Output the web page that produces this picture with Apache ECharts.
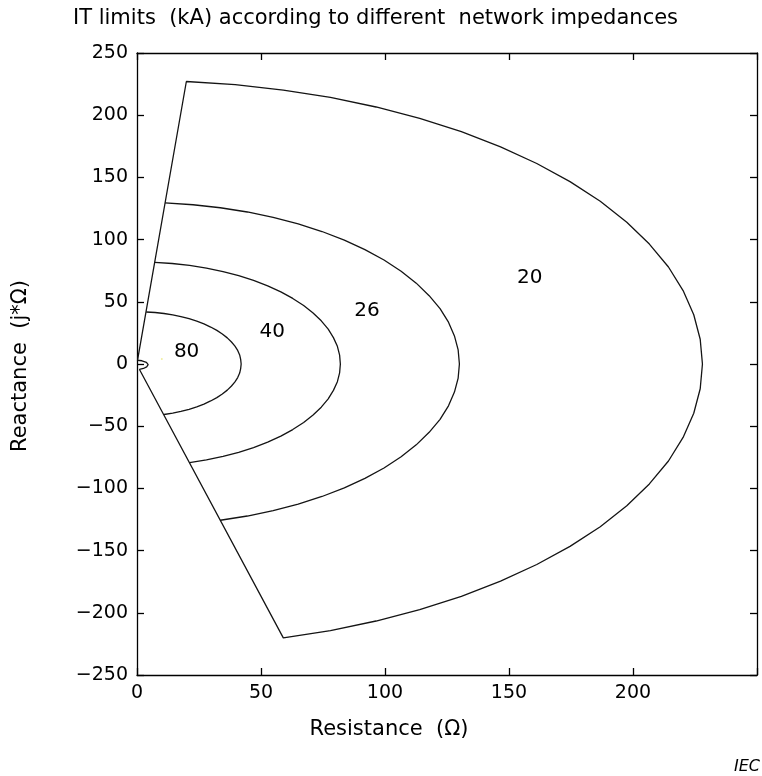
<!DOCTYPE html>
<html>
<head>
<meta charset="utf-8">
<script src="https://cdn.jsdelivr.net/npm/echarts@6/dist/echarts.min.js"></script>
<style>html,body{margin:0;padding:0;background:#fff;}#c{width:762px;height:776px;}</style>
</head>
<body>
<div id="c"></div>
<script>
// ---- data ----
var xTicks = [0, 50, 100, 150, 200, 250];
var yTicks = [-250, -200, -150, -100, -50, 0, 50, 100, 150, 200, 250];

// outer boundary (20 kA): upper wedge line, arc, lower wedge line, small loop near origin
var curve20 = [
  [0.2, 3.0], [19.9, 227.1], [39.6, 224.5], [59.0, 220.2], [78.0, 214.3], [96.4, 206.6],
  [114.0, 197.5], [130.8, 186.8], [146.6, 174.6], [161.2, 161.2], [174.6, 146.6],
  [186.8, 130.8], [197.5, 114.0], [206.6, 96.4], [214.3, 78.0], [220.2, 59.0],
  [224.5, 39.6], [227.1, 19.9], [228.0, 0.0], [227.1, -19.9], [224.5, -39.6],
  [220.2, -59.0], [214.3, -78.0], [206.6, -96.4], [197.5, -114.0], [186.8, -130.8],
  [174.6, -146.6], [161.2, -161.2], [146.6, -174.6], [130.8, -186.8], [114.0, -197.5],
  [96.4, -206.6], [78.0, -214.3], [59.0, -220.2],
  [1.0, -4.4], [2.6, -3.6], [3.9, -2.3], [4.5, -0.5], [3.8, 1.3], [2.0, 2.6], [0.2, 3.0]
];
var curve26 = [
  [11.3, 129.5], [22.6, 128.0], [33.6, 125.6], [44.5, 122.2], [54.9, 117.8], [65.0, 112.6],
  [74.6, 106.5], [83.6, 99.6], [91.9, 91.9], [99.6, 83.6], [106.5, 74.6], [112.6, 65.0],
  [117.8, 54.9], [122.2, 44.5], [125.6, 33.6], [128.0, 22.6], [129.5, 11.3], [130.0, 0.0],
  [129.5, -11.3], [128.0, -22.6], [125.6, -33.6], [122.2, -44.5], [117.8, -54.9],
  [112.6, -65.0], [106.5, -74.6], [99.6, -83.6], [91.9, -91.9], [83.6, -99.6],
  [74.6, -106.5], [65.0, -112.6], [54.9, -117.8], [44.5, -122.2], [33.6, -125.6]
];
var curve40 = [
  [7.1, 81.7], [14.2, 80.8], [21.2, 79.2], [28.0, 77.1], [34.7, 74.3], [41.0, 71.0],
  [47.0, 67.2], [52.7, 62.8], [58.0, 58.0], [62.8, 52.7], [67.2, 47.0], [71.0, 41.0],
  [74.3, 34.7], [77.1, 28.0], [79.2, 21.2], [80.8, 14.2], [81.7, 7.1], [82.0, 0.0],
  [81.7, -7.1], [80.8, -14.2], [79.2, -21.2], [77.1, -28.0], [74.3, -34.7], [71.0, -41.0],
  [67.2, -47.0], [62.8, -52.7], [58.0, -58.0], [52.7, -62.8], [47.0, -67.2],
  [41.0, -71.0], [34.7, -74.3], [28.0, -77.1], [21.2, -79.2]
];
var curve80 = [
  [3.7, 41.8], [7.3, 41.4], [10.9, 40.6], [14.4, 39.5], [17.7, 38.1], [21.0, 36.4],
  [24.1, 34.4], [27.0, 32.2], [29.7, 29.7], [32.2, 27.0], [34.4, 24.1], [36.4, 21.0],
  [38.1, 17.7], [39.5, 14.4], [40.6, 10.9], [41.4, 7.3], [41.8, 3.7], [42.0, 0.0],
  [41.8, -3.7], [41.4, -7.3], [40.6, -10.9], [39.5, -14.4], [38.1, -17.7], [36.4, -21.0],
  [34.4, -24.1], [32.2, -27.0], [29.7, -29.7], [27.0, -32.2], [24.1, -34.4],
  [21.0, -36.4], [17.7, -38.1], [14.4, -39.5], [10.9, -40.6]
];
var labelNames = ['80', '40', '26', '20'];
var labelPos = [[20.0, 10.1], [54.5, 26.1], [92.7, 42.8], [158.4, 69.3]];
var dotPos = [[10.0, 4.0]];

var FONT = 'DejaVu Sans';
var LINE = '#141414';

function curveSeries(d) {
  return {
    type: 'line', data: d, showSymbol: false, symbol: 'none', silent: true,
    lineStyle: { color: LINE, width: 1.3 }, animation: false, z: 3
  };
}

var axisLineStyle = { color: '#000', width: 1.3 };

var chart = echarts.init(document.getElementById('c'), null, { renderer: 'canvas' });
var option = {
  backgroundColor: '#fff',
  animation: false,
  grid: { left: 137, right: 5, top: 53, bottom: 101 },
  xAxis: [{
    type: 'value', min: xTicks[0], max: xTicks[xTicks.length - 1], interval: 50,
    position: 'bottom',
    axisLine: { show: true, onZero: false, lineStyle: axisLineStyle },
    axisTick: { show: true, inside: true, length: 7, lineStyle: axisLineStyle },
    axisLabel: {
      margin: 9, color: '#000', fontFamily: FONT, fontSize: 19,
      formatter: function (v) { return v === 250 ? '' : String(v); }
    },
    splitLine: { show: false }
  }, {
    type: 'value', min: xTicks[0], max: xTicks[xTicks.length - 1], interval: 50,
    position: 'top',
    axisLine: { show: true, onZero: false, lineStyle: axisLineStyle },
    axisTick: { show: true, inside: true, length: 7, lineStyle: axisLineStyle },
    axisLabel: { show: false }, splitLine: { show: false }
  }],
  yAxis: [{
    type: 'value', min: yTicks[0], max: yTicks[yTicks.length - 1], interval: 50,
    position: 'left',
    axisLine: { show: true, onZero: false, lineStyle: axisLineStyle },
    axisTick: { show: true, inside: true, length: 7, lineStyle: axisLineStyle },
    axisLabel: {
      margin: 9, color: '#000', fontFamily: FONT, fontSize: 19,
      formatter: function (v) { return String(v).replace('-', '\u2212'); }
    },
    splitLine: { show: false }
  }, {
    type: 'value', min: yTicks[0], max: yTicks[yTicks.length - 1], interval: 50,
    position: 'right',
    axisLine: { show: true, onZero: false, lineStyle: axisLineStyle },
    axisTick: { show: true, inside: true, length: 7, lineStyle: axisLineStyle },
    axisLabel: { show: false }, splitLine: { show: false }
  }],
  series: [
    curveSeries(curve20), curveSeries(curve26), curveSeries(curve40), curveSeries(curve80),
    {
      type: 'scatter', symbolSize: 0, silent: true, z: 4,
      itemStyle: { opacity: 1, color: '#000' },
      data: labelPos.map(function (p, i) { return { name: labelNames[i], value: p }; }),
      label: {
        show: true, position: [0, 0], align: 'center', verticalAlign: 'middle',
        formatter: '{b}', color: '#000', textBorderWidth: 0,
        fontFamily: FONT, fontSize: 20
      }
    },
    {
      type: 'scatter', symbolSize: 2, silent: true, data: dotPos,
      itemStyle: { color: '#f0eea0', opacity: 1 }
    }
  ],
  graphic: [
    { type: 'text', left: 73, top: 8, style: { text: 'IT limits  (kA) according to different  network impedances', fontFamily: FONT, fontSize: 21, fill: '#000' } },
    { type: 'text', x: 389, y: 730, style: { text: 'Resistance  (\u03A9)', fontFamily: FONT, fontSize: 21, fill: '#000', textAlign: 'center', textVerticalAlign: 'middle' } },
    { type: 'text', x: 21, y: 366, rotation: Math.PI / 2, style: { text: 'Reactance  (j*\u03A9)', fontFamily: FONT, fontSize: 21, fill: '#000', textAlign: 'center', textVerticalAlign: 'middle' } },
    { type: 'text', x: 760, y: 767, style: { text: 'IEC', fontFamily: FONT, fontSize: 16, fontStyle: 'italic', fill: '#000', textAlign: 'right', textVerticalAlign: 'middle' } }
  ]
};
chart.setOption(option);
</script>
</body>
</html>
